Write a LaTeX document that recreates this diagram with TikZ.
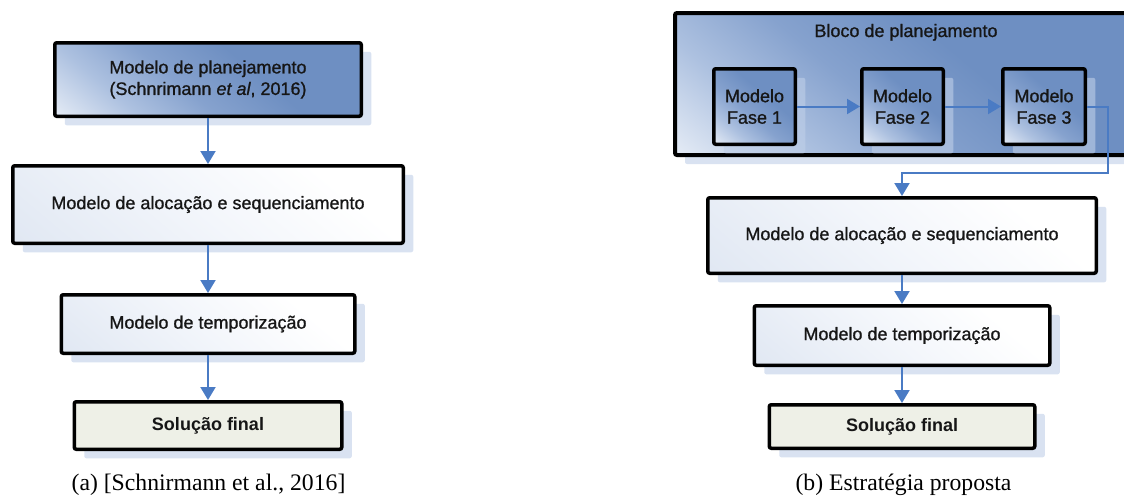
\documentclass[tikz,border=0pt]{standalone}
\usepackage{fontspec}
\setmainfont{Liberation Serif}
\setsansfont{Liberation Sans}
\newfontfamily\boxfont{Liberation Sans}[FakeBold=1.0]
\usetikzlibrary{shadows,arrows.meta}
\definecolor{bltwo}{HTML}{6E8FC2}
\definecolor{bltwoa}{HTML}{86A2CE}
\definecolor{blone}{HTML}{ADC1E0}
\definecolor{blzero}{HTML}{E8EEF7}
\definecolor{wlzero}{HTML}{E1E8F3}
\definecolor{wlone}{HTML}{F3F6FB}
\definecolor{shadowc}{HTML}{BFCFE8}
\definecolor{arrowc}{HTML}{4A7BC4}
\definecolor{finalc}{HTML}{EEF0E7}
\definecolor{txtc}{HTML}{161616}
\pgfdeclarehorizontalshading{bluediag}{100bp}{color(0bp)=(blzero); color(14bp)=(blzero); color(30bp)=(blone); color(44bp)=(bltwoa); color(60bp)=(bltwo); color(100bp)=(bltwo)}
\pgfdeclarehorizontalshading{whitediag}{100bp}{color(0bp)=(wlzero); color(16bp)=(wlzero); color(48bp)=(wlone); color(72bp)=(white); color(100bp)=(white)}
\tikzset{
  box/.style={draw=black, line width=3.5pt, rounded corners=2pt, text=txtc,
    font=\boxfont\fontsize{18}{21.5}\selectfont, align=center, inner sep=0pt,
    drop shadow={shadow xshift=10pt, shadow yshift=-9pt, fill=shadowc, opacity=0.6, draw=none}},
  bluebox/.style={box, shading=bluediag, shading angle=50},
  whitebox/.style={box, shading=whitediag, shading angle=50},
  finalbox/.style={box, fill=finalc, font=\sffamily\bfseries\fontsize{18}{21.5}\selectfont},
  conn/.style={draw=arrowc, line width=2pt, -{Triangle[width=15pt,length=13pt]}},
  caption/.style={font=\fontsize{23.7}{28}\selectfont, anchor=base, inner sep=0pt}
}
\begin{document}
\begin{tikzpicture}[x=1pt,y=-1pt]
\useasboundingbox (0,0) rectangle (1124,496);
% left column
\node[bluebox, minimum width=306.5pt, minimum height=73.5pt] (A) at (208,79.5)
  {Modelo de planejamento\\ (Schnrimann \textit{et al}, 2016)};
\node[whitebox, minimum width=390.5pt, minimum height=77.5pt] (B) at (208,204.5)
  {Modelo de alocação e sequenciamento};
\node[whitebox, minimum width=293.5pt, minimum height=58.5pt] (C) at (208,324)
  {Modelo de temporização};
\node[finalbox, minimum width=267.5pt, minimum height=47.5pt] (D) at (208,425.5)
  {Solução final};
\draw[conn] (A) -- (B);
\draw[conn] (B) -- (C);
\draw[conn] (C) -- (D);
\node[caption] (capa) at (208.5,490) {(a) [Schnirmann et al., 2016]};
% right column
\node[bluebox, line width=4pt, minimum width=458pt, minimum height=142pt] (big) at (904,84) {};
\node[font=\boxfont\fontsize{18}{21.5}\selectfont, text=txtc, anchor=base, inner sep=0pt] (title) at (906,37) {Bloco de planejamento};
\node[bluebox, minimum width=81.5pt, minimum height=75.5pt] (F1) at (754.5,106.5) {Modelo\\Fase 1};
\node[bluebox, minimum width=81.5pt, minimum height=75.5pt] (F2) at (902.5,106.5) {Modelo\\Fase 2};
\node[bluebox, minimum width=82.5pt, minimum height=75.5pt] (F3) at (1044,106.5) {Modelo\\Fase 3};
\node[whitebox, minimum width=388.5pt, minimum height=75.5pt] (B2) at (902,235.5)
  {Modelo de alocação e sequenciamento};
\node[whitebox, minimum width=295.5pt, minimum height=59.5pt] (C2) at (902,335.5)
  {Modelo de temporização};
\node[finalbox, minimum width=265.5pt, minimum height=43.5pt] (D2) at (902,426.5)
  {Solução final};
\coordinate (c1) at (1108,106.5);
\coordinate (c2) at (1108,173);
\draw[conn] (F1) -- (F2);
\draw[conn] (F2) -- (F3);
\draw[conn, rounded corners=0pt] (F3.east) -- (c1) -- (c2) -| (B2.north);
\draw[conn] (B2) -- (C2);
\draw[conn] (C2) -- (D2);
\node[caption] (capb) at (903.5,490) {(b) Estratégia proposta};
\end{tikzpicture}
\end{document}
